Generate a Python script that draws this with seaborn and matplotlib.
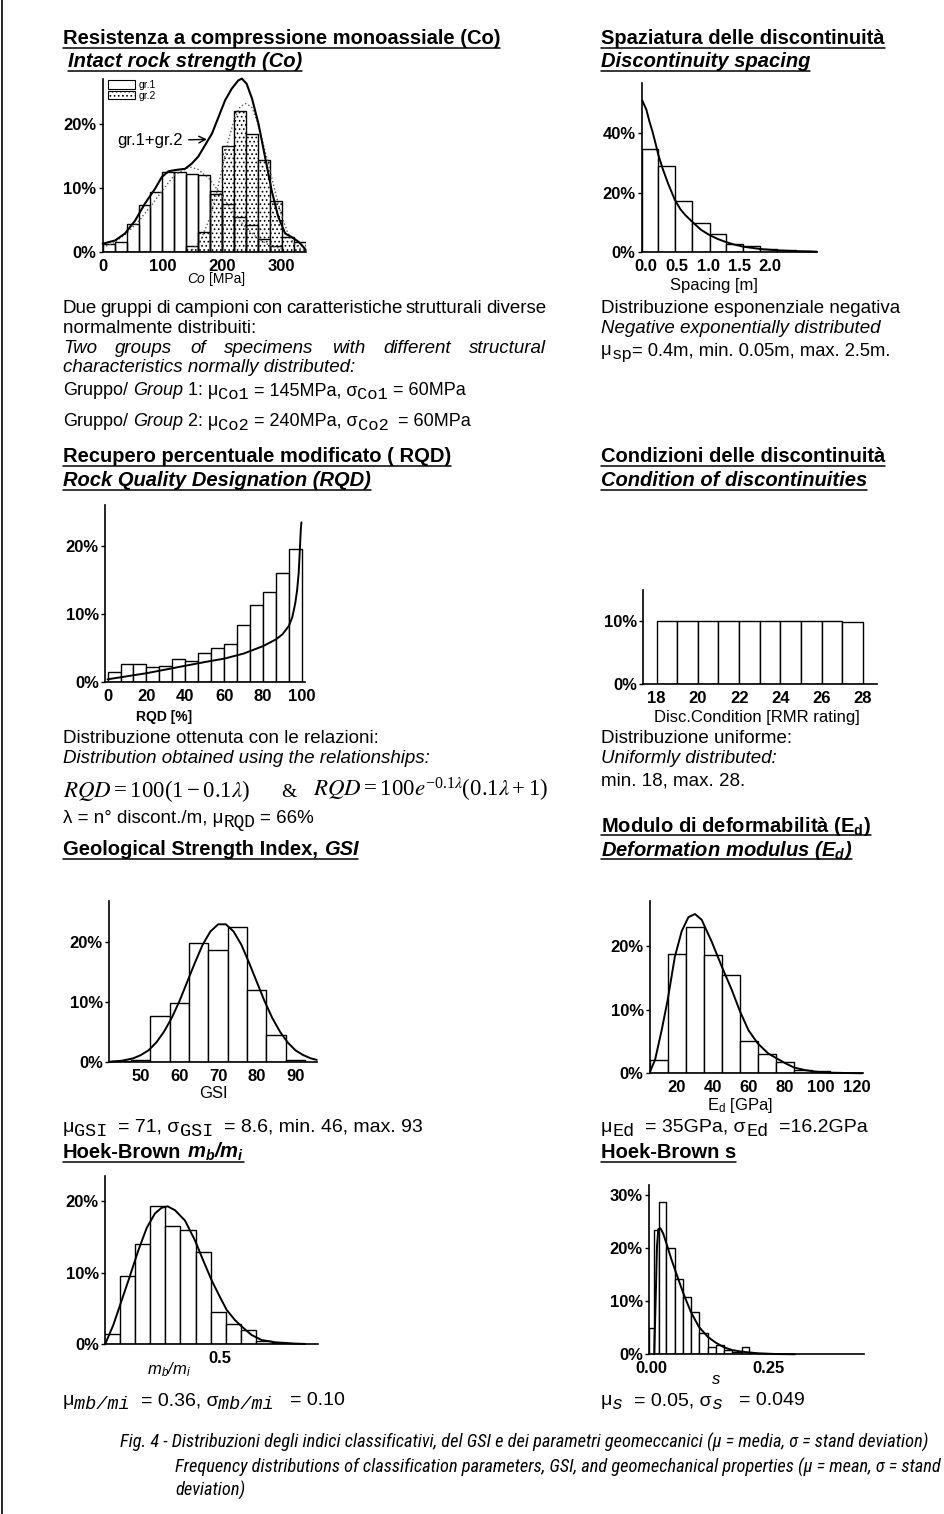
import numpy as np
import pandas as pd
import matplotlib
matplotlib.use("Agg")
import matplotlib.pyplot as plt
from matplotlib.lines import Line2D
from matplotlib.patches import Patch
import seaborn as sns

# ---------------- data (frequencies in %) ----------------
# Intact rock strength Co [MPa], 20 MPa classes
co_edges = [0, 20, 40, 60, 80, 100, 120, 140, 160, 180, 200, 220, 240, 260, 280, 300, 320, 340]
co_gr1 = [1.3, 1.5, 4.4, 7.3, 9.4, 12.5, 12.5, 12.2, 12.0, 9.5, 7.5, 5.5, 4.2, 2.0, 1.0, 0.0, 0.0]
co_gr2 = [0.0, 0.0, 0.0, 0.0, 0.0, 0.0, 0.0, 1.0, 3.2, 9.0, 16.5, 22.0, 18.5, 14.3, 8.0, 2.3, 1.5]
co_sum_x = [0, 20.7, 37.4, 54.2, 71, 87.7, 98.9, 110, 121, 138, 149, 160, 171.5, 183, 194, 205,
            216, 227, 233, 241, 250, 261, 272, 283, 294, 305.6, 317, 328, 336, 340]
co_sum_y = [1.3, 1.8, 2.9, 4.9, 7.6, 9.9, 11.7, 12.6, 12.8, 13.0, 13.8, 14.9, 16.7, 18.5, 21.1, 23.7,
            25.5, 26.8, 27.1, 26.3, 24.0, 20.0, 14.8, 9.6, 5.5, 2.9, 2.3, 1.6, 0.8, 0.3]
co_g1_x = [0, 20, 40, 60, 80, 100, 120, 145, 160, 180, 200, 220, 240, 260, 280, 300]
co_g1_y = [0.7, 1.5, 2.9, 4.8, 7.1, 9.6, 12.0, 13.3, 12.9, 11.3, 8.7, 6.0, 3.8, 2.1, 1.0, 0.5]
co_g2_x = [150, 165, 180, 190, 200, 210, 220, 230, 240, 250, 260, 270, 280, 290, 300, 310, 320, 335]
co_g2_y = [0.3, 2.0, 5.5, 9.0, 13.0, 17.3, 20.6, 22.7, 23.2, 22.6, 20.0, 16.5, 12.8, 9.0, 5.5, 3.0, 1.3, 0.3]

# Discontinuity spacing [m]
sp_edges = [-0.065, 0.19, 0.46, 0.74, 1.02, 1.29, 1.56, 1.84, 2.11, 2.41, 2.68]
sp_freq = [34.7, 29.0, 17.3, 9.7, 5.9, 2.8, 2.0, 1.1, 0.6, 0.3]
sp_fit_x = [-0.065, 0.0, 0.05, 0.1, 0.15, 0.19, 0.26, 0.35, 0.46, 0.55, 0.63, 0.74, 0.88, 1.02,
            1.15, 1.29, 1.42, 1.56, 1.84, 2.11, 2.41, 2.75]
sp_fit_y = [51.0, 48.0, 44.0, 40.5, 36.5, 33.0, 28.3, 23.1, 17.6, 14.4, 12.4, 10.2, 7.5, 5.7,
            4.4, 3.3, 2.5, 1.8, 1.0, 0.55, 0.28, 0.12]

# RQD [%]
rqd_edges = [0, 6.7, 13.3, 20, 26.7, 33.3, 40, 46.7, 53.3, 60, 66.7, 73.3, 80, 86.7, 93.3, 100]
rqd_freq = [1.4, 2.6, 2.6, 2.2, 2.3, 3.35, 3.1, 4.2, 5.0, 5.5, 8.4, 11.3, 13.3, 16.1, 19.6]
rqd_fit_x = [0, 10, 20, 30, 40, 50, 60, 70, 80, 86.7, 90, 93.3, 95, 96.5, 97.5, 98.3, 99, 99.4, 99.7]
rqd_fit_y = [0.35, 0.8, 1.25, 1.8, 2.35, 2.9, 3.4, 4.15, 5.25, 6.25, 7.0, 8.25, 9.5, 11.5, 13.5, 16.0,
             20.0, 22.5, 23.5]

# Condition of discontinuities [RMR rating]
dc_edges = [18, 19, 20, 21, 22, 23, 24, 25, 26, 27, 28]
dc_freq = [10.0, 10.0, 10.0, 10.0, 10.0, 10.0, 10.0, 10.0, 10.0, 9.8]

# GSI
gsi_edges = [42.5, 47.5, 52.5, 57.5, 62.5, 67.5, 72.5, 77.5, 82.5, 87.5, 92.5]
gsi_freq = [0.2, 0.4, 7.7, 9.8, 19.8, 18.7, 22.6, 12.0, 4.5, 0.4]
gsi_fit_x = [42, 45, 48, 50, 52, 54, 56, 58, 60, 62, 64, 66, 68, 70, 72, 74, 76, 78, 80, 82, 84,
             86, 88, 90, 92, 94, 95.5]
gsi_fit_y = [0.1, 0.25, 0.65, 1.2, 2.0, 3.3, 5.1, 7.4, 10.2, 13.4, 16.6, 19.6, 21.8, 23.0, 23.0,
             21.8, 19.6, 16.6, 13.4, 10.2, 7.4, 5.1, 3.3, 2.0, 1.2, 0.65, 0.4]

# Deformation modulus Ed [GPa]
ed_edges = [5, 15, 25, 35, 45, 55, 65, 75, 85, 95, 105, 115]
ed_freq = [2.1, 18.8, 23.0, 18.6, 15.5, 5.1, 3.1, 1.8, 0.5, 0.3, 0.1]
ed_fit_x = [5.2, 8, 11.7, 15, 19, 22.8, 26.5, 30.2, 33.9, 39.4, 45, 50.6, 55.2, 59.8, 65, 70.9,
            75.2, 80.2, 85.2, 91.3, 96.9, 104, 123]
ed_fit_y = [0.26, 2.1, 6.8, 11.5, 18.3, 22.3, 24.5, 25.0, 24.1, 20.7, 16.8, 13.1, 9.7, 6.8, 4.7,
            3.1, 2.4, 1.6, 0.9, 0.5, 0.26, 0.1, 0.0]

# Hoek-Brown mb/mi
mb_edges = [0.12, 0.17, 0.22, 0.27, 0.32, 0.37, 0.42, 0.47, 0.52, 0.57, 0.62, 0.67, 0.72]
mb_freq = [1.4, 9.5, 14.1, 19.4, 16.5, 16.0, 12.9, 4.5, 2.8, 2.0, 0.4, 0.15]
mb_fit_x = [0.122, 0.149, 0.177, 0.204, 0.231, 0.259, 0.286, 0.308, 0.328, 0.352, 0.385, 0.418,
            0.445, 0.473, 0.5, 0.522, 0.549, 0.571, 0.604, 0.637, 0.681, 0.747, 0.78]
mb_fit_y = [0.0, 2.7, 6.2, 9.6, 13.1, 16.3, 18.3, 19.1, 19.3, 18.75, 17.3, 14.5, 11.7, 8.9, 6.6,
            4.8, 3.4, 2.5, 1.3, 0.6, 0.28, 0.1, 0.05]

# Hoek-Brown s
s_edges = [-0.004, 0.0075, 0.0178, 0.033, 0.051, 0.068, 0.085, 0.102, 0.121, 0.138, 0.156, 0.173,
           0.193, 0.21, 0.227, 0.245]
s_freq = [4.9, 23.5, 28.8, 20.0, 14.3, 10.9, 8.0, 4.1, 1.3, 1.8, 0.9, 0.5, 1.4, 0.3, 0.15]
s_fit_x = [0.007, 0.010, 0.0128, 0.0156, 0.020, 0.026, 0.033, 0.044, 0.055, 0.069, 0.085, 0.102,
           0.121, 0.138, 0.156, 0.173, 0.193, 0.227, 0.264, 0.307]
s_fit_y = [0.0, 10.3, 20.3, 23.6, 23.8, 22.8, 20.9, 17.8, 15.0, 11.5, 8.0, 5.2, 3.3, 2.2, 1.3, 0.8,
           0.5, 0.2, 0.06, 0.0]

# ---------------- style ----------------
W, H = 944, 1514
sns.set_style("ticks")
plt.rcParams.update({
    "font.family": ["Liberation Sans", "DejaVu Sans"],
    "mathtext.fontset": "custom",
    "mathtext.rm": "Liberation Sans",
    "mathtext.it": "Liberation Sans:italic",
    "mathtext.bf": "Liberation Sans:bold",
    "mathtext.tt": "Liberation Mono",
    "mathtext.default": "regular",
    "axes.linewidth": 1.2,
    "axes.edgecolor": "black",
    "text.color": "black",
    "xtick.color": "black",
    "ytick.color": "black",
    "hatch.linewidth": 0.7,
    "hatch.color": "black",
})

fig = plt.figure(figsize=(W / 100, H / 100), dpi=100, facecolor="white")
renderer = fig.canvas.get_renderer()


def make_axes(xlim, px, ylim, py):
    ax = fig.add_axes([px[0] / W, 1 - py[0] / H, (px[1] - px[0]) / W, (py[0] - py[1]) / H])
    ax.set_xlim(xlim)
    ax.set_ylim(ylim)
    ax.patch.set_alpha(0)
    sns.despine(ax=ax)
    return ax


def finish(ax, xt, xl, yt):
    ax.set_xticks(xt)
    ax.set_xticklabels(xl)
    ax.set_yticks(yt)
    ax.set_yticklabels([f"{v}%" for v in yt])
    ax.tick_params(axis="y", length=3, width=1, pad=1.5, labelsize=12)
    ax.tick_params(axis="x", length=0, pad=5, labelsize=12)
    for lab in ax.get_xticklabels() + ax.get_yticklabels():
        lab.set_fontweight("bold")
    ax.set_xlabel("")
    ax.set_ylabel("")


def bars(ax, edges, heights, hatch=None, filled=True, lw=1.0):
    e = [float(v) for v in edges]
    df = pd.DataFrame({
        "mid": [(a + b) / 2 for a, b in zip(e[:-1], e[1:])],
        "freq": [float(v) for v in heights],
    })
    kw = dict(data=df, x="mid", weights="freq", bins=e, ax=ax, stat="count",
              element="bars", linewidth=lw)
    if filled:
        sns.histplot(**kw, color="white", edgecolor="black", alpha=1, hatch=hatch)
    else:
        sns.histplot(**kw, fill=False, color="black")


def curve(ax, x, y, ls="-", lw=1.4, color="black"):
    sns.lineplot(x=x, y=y, ax=ax, color=color, linewidth=lw, linestyle=ls, sort=False,
                 estimator=None, clip_on=False)


# ---------------- panels ----------------
# Co
ax = make_axes((0, 340), (102.7, 305.7), (0, 27), (252, 79.2))
bars(ax, co_edges, co_gr2, hatch="....")
bars(ax, co_edges, co_gr1, filled=False)
curve(ax, co_g1_x, co_g1_y, ls=":", lw=1.0, color="0.35")
curve(ax, co_g2_x, co_g2_y, ls=":", lw=1.0, color="0.35")
curve(ax, co_sum_x, co_sum_y, lw=1.5)
ax.annotate("gr.1+gr.2", xy=(177, 17.6), xytext=(24, 17.4), fontsize=12, va="center",
            arrowprops=dict(arrowstyle="->", lw=1.0, color="black", shrinkA=2, shrinkB=1))
ax.legend(handles=[Patch(facecolor="white", edgecolor="black", lw=0.8, label="gr.1"),
                   Patch(facecolor="white", edgecolor="black", lw=0.8, hatch="....", label="gr.2")],
          loc="upper left", bbox_to_anchor=(108 / W, 1 - 80 / H), bbox_transform=fig.transFigure,
          frameon=False, fontsize=7.5, borderpad=0, borderaxespad=0, handlelength=2.6,
          handleheight=0.9, handletextpad=0.3, labelspacing=0.05)
finish(ax, [0, 100, 200, 300], ["0", "100", "200", "300"], [0, 10, 20])

# Spacing
ax = make_axes((-0.075, 2.75), (641.65, 816.8), (0, 57), (252, 82.7))
bars(ax, sp_edges, sp_freq)
curve(ax, sp_fit_x, sp_fit_y)
finish(ax, [0, 0.5, 1.0, 1.5, 2.0], ["0.0", "0.5", "1.0", "1.5", "2.0"], [0, 20, 40])

# RQD
ax = make_axes((-1.3, 101.5), (105, 304.9), (0, 26), (681.7, 505.4))
bars(ax, rqd_edges, rqd_freq)
curve(ax, rqd_fit_x, rqd_fit_y)
finish(ax, [0, 20, 40, 60, 80, 100], ["0", "20", "40", "60", "80", "100"], [0, 10, 20])

# Discontinuity condition
ax = make_axes((17.36, 28.7), (643.3, 877.5), (0, 14.8), (684, 590.3))
bars(ax, dc_edges, dc_freq)
finish(ax, [18, 20, 22, 24, 26, 28], ["18", "20", "22", "24", "26", "28"], [0, 10])

# GSI
ax = make_axes((41.8, 95.6), (109.1, 317.1), (0, 26.9), (1062.3, 900.9))
bars(ax, gsi_edges, gsi_freq)
curve(ax, gsi_fit_x, gsi_fit_y)
finish(ax, [50, 60, 70, 80, 90], ["50", "60", "70", "80", "90"], [0, 10, 20])

# Ed
ax = make_axes((5.2, 123.7), (650, 863.4), (0, 27), (1073.3, 901.3))
bars(ax, ed_edges, ed_freq)
curve(ax, ed_fit_x, ed_fit_y)
finish(ax, [20, 40, 60, 80, 100, 120], ["20", "40", "60", "80", "100", "120"], [0, 10, 20])

# mb/mi
ax = make_axes((0.122, 0.823), (105.1, 318.2), (0, 23.5), (1344.3, 1176.3))
bars(ax, mb_edges, mb_freq)
curve(ax, mb_fit_x, mb_fit_y)
finish(ax, [0.5], ["0.5"], [0, 10, 20])

# s
ax = make_axes((-0.004, 0.455), (649.1, 864.4), (0, 32), (1354.3, 1184.7))
bars(ax, s_edges, s_freq)
curve(ax, s_fit_x, s_fit_y)
finish(ax, [0.0, 0.25], ["0.00", "0.25"], [0, 10, 20, 30])


# ---------------- text ----------------
def put(x, y, s, **kw):
    kw.setdefault("va", "baseline")
    return fig.text(x / W, 1 - y / H, s, **kw)


def width_of(s, **kw):
    t = fig.text(0, 0, s, **kw)
    w = t.get_window_extent(renderer).width
    t.remove()
    return w


def run(x, y, parts, size, underline=False, **common):
    """Lay out differently styled pieces of one line side by side."""
    x0 = x
    for s, style in parts:
        style = dict(style)
        dy = style.pop("dy", 0)
        scale = style.pop("scale", 1.0)
        kw = dict(common, fontsize=size * scale, **style)
        sw = width_of("x x", **kw) - width_of("xx", **kw)
        lead = len(s) - len(s.lstrip(" "))
        trail = len(s) - len(s.rstrip(" "))
        x += lead * sw
        core = s.strip(" ")
        if core:
            t = put(x, y + dy, core, **kw)
            x += t.get_window_extent(renderer).width
        x += trail * sw
    if underline:
        fig.add_artist(Line2D([x0 / W, x / W], [1 - (y + 3.5) / H] * 2, color="black", lw=1.1))
    return x


def justify(x0, x1, y, text, size, **kw):
    words = text.split()
    ws = [width_of(w, fontsize=size, **kw) for w in words]
    gap = (x1 - x0 - sum(ws)) / (len(words) - 1)
    x = x0
    for w, wd in zip(words, ws):
        put(x, y, w, fontsize=size, **kw)
        x += wd + gap


B = {"fontweight": "bold"}
BI = {"fontweight": "bold", "fontstyle": "italic"}
R = {}
I = {"fontstyle": "italic"}
SUB = {"family": "Liberation Mono", "scale": 0.95, "dy": 4}
SUBI = {"family": "Liberation Mono", "fontstyle": "italic", "scale": 0.95, "dy": 4}
TS = 14.5   # section titles
BS = 13.5   # body text
ST = 14     # statistics lines
LX, RX = 63, 601

# --- Co ---
run(LX, 44, [("Resistenza a compressione monoassiale (Co)", B)], TS, underline=True)
run(68, 67, [("Intact rock strength (Co)", BI)], TS, underline=True)
run(187, 283, [("Co", I), (" [MPa]", R)], 10)
justify(LX, 546, 313, "Due gruppi di campioni con caratteristiche strutturali diverse", BS)
run(LX, 333, [("normalmente distribuiti:", R)], BS)
justify(LX, 546, 353, "Two groups of specimens with different structural", BS, fontstyle="italic")
run(LX, 372, [("characteristics normally distributed:", I)], BS)
run(LX, 395, [("Gruppo/ ", R), ("Group", I), (" 1: μ", R), ("Co1", SUB),
              (" = 145MPa, σ", R), ("Co1", SUB), (" = 60MPa", R)], 13)
run(LX, 426, [("Gruppo/ ", R), ("Group", I), (" 2: μ", R), ("Co2", SUB),
              (" = 240MPa, σ", R), ("Co2", SUB), ("  = 60MPa", R)], 13)

# --- Spacing ---
run(RX, 44, [("Spaziatura delle discontinuità", B)], TS, underline=True)
run(RX, 67, [("Discontinuity spacing", BI)], TS, underline=True)
put(714, 290, "Spacing [m]", fontsize=12, ha="center")
run(RX, 313, [("Distribuzione esponenziale negativa", R)], BS)
run(RX, 333, [("Negative exponentially distributed", I)], BS)
run(RX, 355, [("μ", R), ("sp", SUB), ("= 0.4m, min. 0.05m, max. 2.5m.", R)], 13.2)

# --- RQD ---
run(LX, 462, [("Recupero percentuale modificato ( RQD)", B)], TS, underline=True)
run(LX, 486, [("Rock Quality Designation (RQD)", BI)], TS, underline=True)
put(164, 721, "RQD [%]", fontsize=10, fontweight="bold", ha="center")
run(LX, 743, [("Distribuzione ottenuta con le relazioni:", R)], BS)
run(LX, 763, [("Distribution obtained using the relationships:", I)], BS)
put(LX, 797, r"$\mathit{RQD} = 100(1-0.1\mathit{\lambda})$", fontsize=16.5,
    family="Liberation Serif", math_fontfamily="stix")
put(281, 797, "&", fontsize=14, family="Liberation Serif")
put(313, 797, r"$\mathit{RQD} = 100\mathit{e}^{-0.1\mathit{\lambda}}(0.1\mathit{\lambda}+1)$",
    fontsize=16.5, family="Liberation Serif", math_fontfamily="stix")
run(LX, 823, [("λ = n° discont./m, μ", R), ("RQD", SUB), (" = 66%", R)], 13.5)

# --- Discontinuity condition ---
run(RX, 462, [("Condizioni delle discontinuità", B)], TS, underline=True)
run(RX, 486, [("Condition of discontinuities", BI)], TS, underline=True)
put(757, 722, "Disc.Condition [RMR rating]", fontsize=12, ha="center")
run(RX, 743, [("Distribuzione uniforme:", R)], BS)
run(RX, 763, [("Uniformly distributed:", I)], BS)
run(RX, 785, [("min. 18, max. 28.", R)], BS)

# --- GSI ---
run(LX, 855, [("Geological Strength Index, ", B), ("GSI", BI)], TS, underline=True)
put(213, 1098, "GSI", fontsize=12, ha="center")
run(LX, 1132, [("μ", R), ("GSI", SUB), ("  = 71, σ", R), ("GSI", SUB),
               ("  = 8.6, min. 46, max. 93", R)], ST)

# --- Ed ---
run(RX, 832, [(r"Modulo di deformabilità (E$_{d}$)", B)], TS, underline=True)
run(RX, 856, [(r"Deformation modulus (E$_{d}$)", BI)], TS, underline=True)
put(740, 1110, r"E$_{d}$ [GPa]", fontsize=12, ha="center")
run(RX, 1132, [("μ", R), ("Ed", SUB), ("  = 35GPa, σ", R), ("Ed", SUB), ("  =16.2GPa", R)], ST)

# --- mb/mi ---
run(LX, 1158, [("Hoek-Brown ", B), (r"m$_{b}$/m$_{i}$", BI)], TS, underline=True)
put(147, 1374, r"m$_{b}$/m$_{i}$", fontsize=12, fontstyle="italic")
run(LX, 1405, [("μ", R), ("mb/mi", SUBI), ("  = 0.36, σ", R), ("mb/mi", SUBI), ("   = 0.10", R)], ST)

# --- s ---
run(RX, 1158, [("Hoek-Brown s", B)], TS, underline=True)
put(716, 1384, "s", fontsize=12, fontstyle="italic", ha="center")
run(RX, 1405, [("μ", R), ("s", SUBI), ("  = 0.05, σ", R), ("s", SUBI), ("   = 0.049", R)], ST)

# --- caption ---
cap_font = dict(family=["Roboto Condensed", "Liberation Sans"], fontstyle="italic",
                fontstretch="condensed")
cap1 = "Fig. 4 - Distribuzioni degli indici classificativi, del GSI e dei parametri geomeccanici (μ = media, σ = stand deviation)"
cap2 = "Frequency distributions of classification parameters, GSI, and geomechanical properties (μ = mean, σ = stand"
cap3 = "deviation)"
cap_size = 12 * 805 / width_of(cap1, fontsize=12, **cap_font)
put(120, 1448, cap1, fontsize=cap_size, **cap_font)
put(175, 1473, cap2, fontsize=cap_size, **cap_font)
put(175, 1496, cap3, fontsize=cap_size, **cap_font)

# page border on the left
fig.add_artist(Line2D([2 / W, 2 / W], [0, 1], color="black", lw=1.2))

fig.savefig("out.png", dpi=100, facecolor="white")
